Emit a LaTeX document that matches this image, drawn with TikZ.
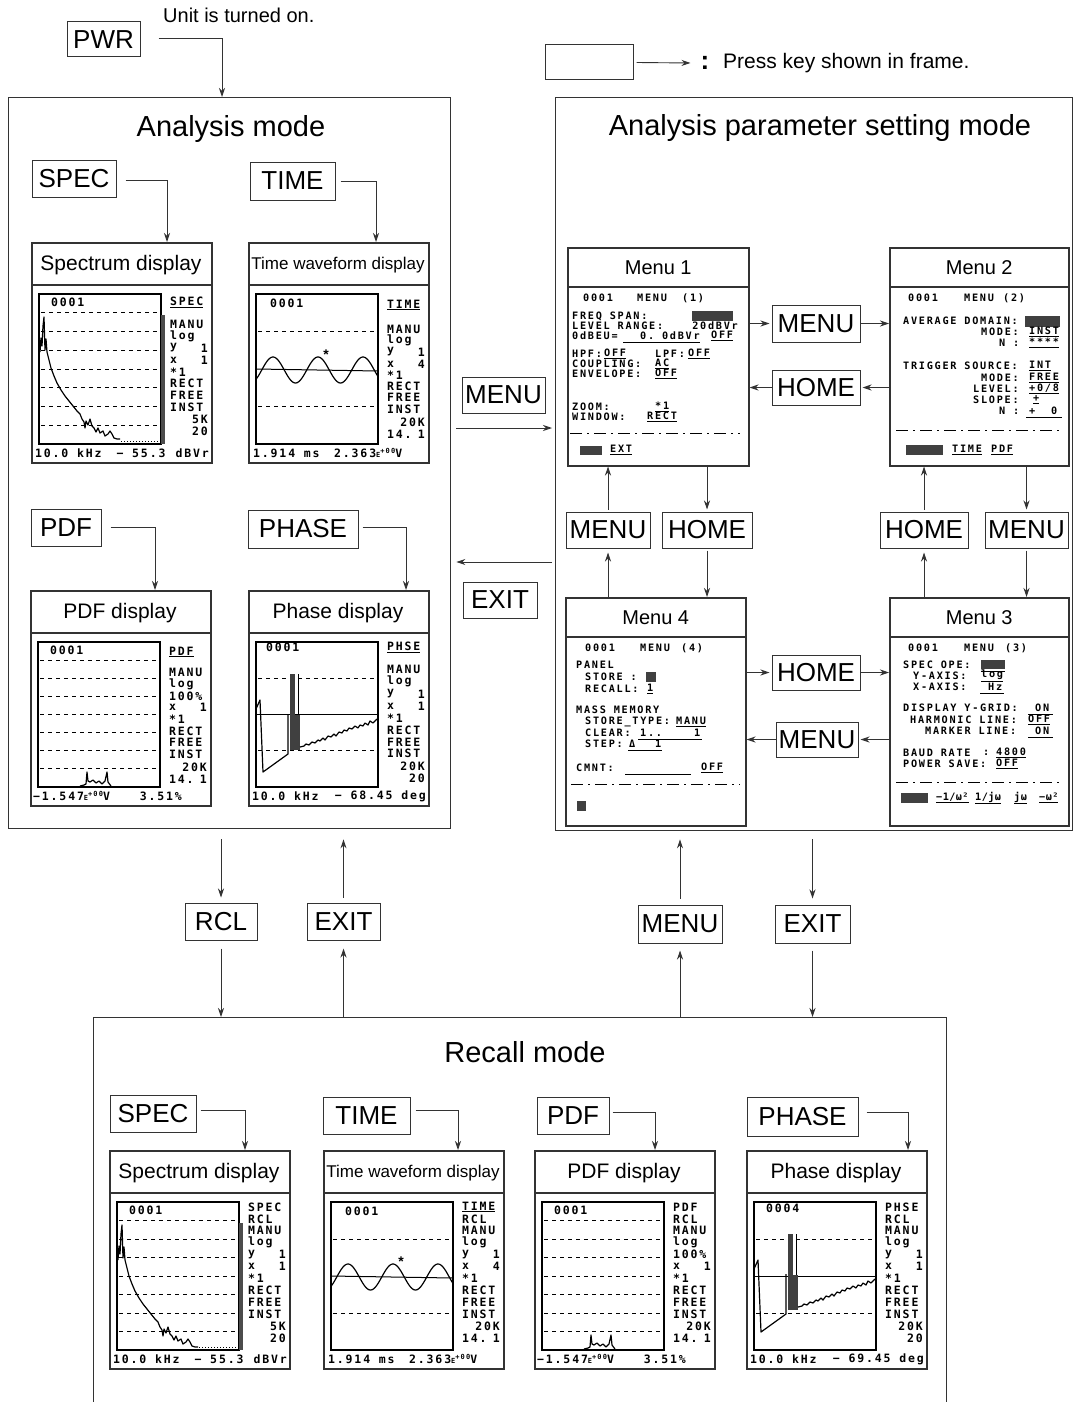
\documentclass[tikz,border=0pt]{standalone}
\usepackage{fontspec}
\setmainfont{Liberation Sans}
\newfontfamily\dispfam[LetterSpace=16]{DejaVu Sans Mono Bold}
\newfontfamily\menufam[LetterSpace=17]{DejaVu Sans Mono Bold}
\newfontfamily\menunarrow[LetterSpace=4]{DejaVu Sans Mono Bold}
\usetikzlibrary{arrows.meta,calc}
\newcommand{\DFont}{\dispfam\fontsize{11.5}{12}\selectfont}
\newcommand{\MFont}{\menufam\fontsize{10.2}{11}\selectfont}
\newcommand{\Esup}{{\fontsize{7}{7}\selectfont E\raisebox{3.5pt}{+00}}}
\tikzset{
 frm/.style={draw=black!80, line width=1.4pt, anchor=north west, inner sep=0pt},
 keyb/.style={draw=black!80, line width=1pt, inner sep=0pt, fill=white, font=\fontsize{26}{26}\selectfont},
 arr/.style={draw=black!80, line width=0.9pt, -{Stealth[length=9pt,width=6pt]}},
 dispf/.style={draw=black!80, line width=1.5pt, anchor=north west, inner sep=0pt, minimum width=180pt},
 menub/.style={draw=black!80, line width=1.5pt, anchor=north west, inner sep=0pt},
 dl/.style={font=\DFont, inner sep=0pt},
 ml/.style={font=\MFont, inner sep=0pt, anchor=west},
 mln/.style={font=\menunarrow\fontsize{10.2}{11}\selectfont, inner sep=0pt, anchor=west},
 gridd/.style={line width=0.8pt, dash pattern=on 4pt off 4pt},
 crv/.style={line width=1.2pt, line join=round},
 mdash/.style={line width=0.9pt, dash pattern=on 12pt off 5pt on 2pt off 5pt},
 dark/.style={fill=black!75},
 ttl/.style={font=\fontsize{29}{29}\selectfont, inner sep=0pt},
 mttl/.style={font=\fontsize{20}{20}\selectfont, inner sep=0pt}
}
\newcommand{\LabA}[3]{\node[dl,anchor=west] at (139,{#1}) {#2};\node[dl,anchor=east] at (177,{#1}) {#3};}
\newcommand{\LabR}[3]{\LabA{57+11.9*#1}{#2}{#3}}
\newcommand{\Display}[6]{%
 \node[dispf, minimum height=#4pt] (#1) at (#2,#3) {};
 \begin{scope}[shift={(#2,#3)}]
  \draw[line width=1.1pt, draw=black!80] (0,43) -- (180,43);
  \node[font=\fontsize{21}{21}\selectfont, inner sep=0pt] at (90,23) {#5};
  \draw[line width=1.2pt] (8,52) rectangle (130,{#4-18});
  #6
 \end{scope}}
\newcommand{\SpecPlot}[1]{%
 \foreach \k in {1,...,7}{\draw[gridd] (10,{52+\k*(#1-70)/8}) -- (129,{52+\k*(#1-70)/8});}
 \fill[black!70] (130,73) rectangle (134,{#1-18});
 \draw[crv] plot coordinates {(9,110) (10,96) (11,104) (12,84) (13,75) (14,108) (15,97) (16,110) (18,118) (20,126) (23,134) (26,141) (30,148) (34,154) (38,159) (42,164) (46,169) (49,172) (51,177) (53,180) (54,186) (55,179) (57,183) (59,177) (61,184) (63,186) (65,190) (67,186) (69,191) (72,189) (74,194) (77,192) (79,189) (81,192) (83,196) (86,197) (89,197)};
 \draw[line width=1pt, dotted] (90,{#1-21}) -- (128,{#1-21});
 \node[dl,anchor=west] at (20,60) {0001};}
\newcommand{\TimePlot}[1]{%
 \draw[gridd] (10,{52+(#1-70)/4}) -- (129,{52+(#1-70)/4});
 \draw[gridd] (10,{52+3*(#1-70)/4}) -- (129,{52+3*(#1-70)/4});
 \draw[line width=1pt] (8,{52+(#1-70)/2}) -- (130,{52+(#1-70)/2+2});
 \draw[crv] plot[smooth, domain=8.5:129.5, samples=120] (\x, {52+(#1-70)/2+1 - 13*sin(8*(\x-13.75))});
 \node[font=\bfseries\fontsize{14}{14}\selectfont, inner sep=0pt] at (78,{52+(#1-70)/2-14}) {*};
 \node[dl,anchor=west] at (22,61) {0001};}
\newcommand{\PdfPlot}[1]{%
 \foreach \k in {1,...,7}{\draw[gridd] (10,{52+\k*(#1-70)/8}) -- (129,{52+\k*(#1-70)/8});}
 \begin{scope}[shift={(0,{#1-18})}]
  \draw[crv] plot coordinates {(50,-1) (54,-2) (56,-3) (57,-15) (58,-6) (60,-5) (63,-7) (66,-4) (69,-6) (72,-3) (75,-6) (77,-15) (78,-5) (81,-1)};
 \end{scope}
 \node[dl,anchor=west] at (20,60) {0001};}
\newcommand{\PhasePlot}[1]{%
 \draw[gridd] (10,{52+(#1-70)/4}) -- (129,{52+(#1-70)/4});
 \draw[gridd] (10,{52+3*(#1-70)/4}) -- (129,{52+3*(#1-70)/4});
 \draw[line width=1pt] (8,{52+(#1-70)/2}) -- (130,{52+(#1-70)/2});
 \draw[crv] plot coordinates {(8,119) (12,110) (15,182) (40,164) (40,124)};
 \fill[black!75] (42,84) rectangle (47,160);
 \draw[line width=1pt] (50,84) -- (50,160);
 \fill[black!75] (46,125) rectangle (52,160);
 \draw[crv] plot coordinates {(52,157) (56,156) (58,154) (61,155) (64,152) (67,153) (70,150) (72,151) (75,148) (77,150) (80,146) (83,147) (86,144) (88,146) (91,142) (94,143) (96,140) (99,141) (101,138) (104,139) (107,136) (110,138) (112,135) (115,136) (117,133) (120,135) (122,131) (125,133) (129,129)};}
\begin{document}
\begin{tikzpicture}[x=1pt,y=-1pt]
\useasboundingbox[fill=white] (0,0) rectangle (1076,1402);
% ---------- top
\node[keyb, minimum width=73pt, minimum height=35pt] (pwr) at (103.5,39.5) {PWR};
\node[anchor=west, font=\fontsize{20}{20}\selectfont, inner sep=0pt] (note) at (163,15) {Unit is turned on.};
\node[keyb, minimum width=88pt, minimum height=35pt] (lgd) at (589,62.5) {};
\node[font=\bfseries\fontsize{26}{26}\selectfont, inner sep=0pt] (colon) at (705,63) {:};
\node[anchor=west, font=\fontsize{21}{21}\selectfont, inner sep=0pt] (lgdtext) at (723,63) {Press key shown in frame.};
\draw[arr] ($(lgd.east)+(3,0)$) -- ($(colon.west)+(-10,0)$);
% ---------- frames
\node[frm, minimum width=442pt, minimum height=731pt] (am) at (8,97) {};
\node[ttl] at (231,129) {Analysis mode};
\node[frm, minimum width=517pt, minimum height=733pt] (apm) at (555,97) {};
\node[ttl] at (820,128) {Analysis parameter setting mode};
\node[frm, minimum width=853pt, minimum height=420pt] (rm) at (93,1017) {};
\node[ttl] at (525,1052) {Recall mode};
\draw[arr] ($(pwr.east)+(18,-1)$) -| ($(am.north west)+(214,0)$);
% ---------- analysis mode keys
\node[keyb, minimum width=84pt, minimum height=37pt] (kspecA) at (74,178.5) {SPEC};
\node[keyb, minimum width=85pt, minimum height=38pt] (ktimeA) at (292.5,181) {TIME};
\node[keyb, minimum width=70pt, minimum height=37pt] (kpdfA) at (66,527.5) {PDF};
\node[keyb, minimum width=110pt, minimum height=38pt] (kphaseA) at (303,529) {PHASE};
% ---------- analysis displays
\Display{dsA}{31}{242}{220}{Spectrum display}{\SpecPlot{220}
 \LabA{60}{\underline{SPEC}}{}\LabA{82}{MANU}{}\LabA{94}{log}{}\LabA{106}{y}{1}\LabA{118}{x}{1}
 \LabA{130}{*1}{}\LabA{141}{RECT}{}\LabA{153}{FREE}{}\LabA{165}{INST}{}\LabA{177}{}{5K}\LabA{189}{}{20}
 \node[dl,anchor=west] at (4,211) {10.0 kHz}; \node[dl] at (110,211) {−~55.3}; \node[dl,anchor=east] at (178,211) {dBVr};}
\Display{dtA}{248}{242}{220}{\fontsize{17}{17}\selectfont Time waveform display}{\TimePlot{220}
 \LabA{63}{\underline{TIME}}{}\LabA{87}{MANU}{}\LabA{98}{log}{}\LabA{110}{y}{1}\LabA{122}{x}{4}
 \LabA{133}{*1}{}\LabA{144}{RECT}{}\LabA{155}{FREE}{}\LabA{167}{INST}{}\LabA{180}{}{20K}\LabA{192}{14.}{1}
 \node[dl,anchor=west] at (5,211) {1.914 ms}; \node[dl,anchor=west] at (86,211) {2.363\Esup V};}
\Display{dpA}{30}{590}{215}{PDF display}{\PdfPlot{215}
 \LabA{62}{\underline{PDF}}{}\LabA{82}{MANU}{}\LabA{94}{log}{}\LabA{106}{100\%}{}\LabA{117}{x}{1}
 \LabA{129}{*1}{}\LabA{141}{RECT}{}\LabA{152}{FREE}{}\LabA{164}{INST}{}\LabA{177}{}{20K}\LabA{189}{14.}{1}
 \node[dl,anchor=west] at (3,206) {−1.547\Esup V}; \node[dl,anchor=east] at (152,206) {3.51\%};}
\Display{dphA}{248}{590}{215}{Phase display}{\PhasePlot{215}
 \node[dl,anchor=west] at (18,57) {0001};
 \LabA{57}{\underline{PHSE}}{}\LabA{79}{MANU}{}\LabA{91}{log}{}\LabA{104}{y}{1}\LabA{116}{x}{1}
 \LabA{128}{*1}{}\LabA{140}{RECT}{}\LabA{152}{FREE}{}\LabA{163}{INST}{}\LabA{176}{}{20K}\LabA{188}{}{20}
 \node[dl,anchor=west] at (4,206) {10.0 kHz}; \node[dl,anchor=east] at (178,206) {−~68.45 deg};}
\draw[arr] ($(kspecA.east)+(9,2)$) -| ($(dsA.north west)+(136,0)$);
\draw[arr] ($(ktimeA.east)+(5,0)$) -| ($(dtA.north west)+(128,0)$);
\draw[arr] ($(kpdfA.east)+(9,0)$) -| ($(dpA.north west)+(125,0)$);
\draw[arr] ($(kphaseA.east)+(4,-2)$) -| ($(dphA.north west)+(158,0)$);
% ---------- between modes
\node[keyb, minimum width=83pt, minimum height=36pt] (kmenuC) at (503.5,395) {MENU};
\node[keyb, minimum width=74pt, minimum height=36pt] (kexitC) at (500,600) {EXIT};
\draw[arr] ($(am.north east)+(5,331)$) -- ($(apm.north west)+(-3,331)$);
\draw[arr] ($(apm.north west)+(-3,465)$) -- ($(am.north east)+(5,465)$);
% ---------- menus
\node[menub, minimum width=181pt, minimum height=218pt] (m1) at (567,247) {};
\node[menub, minimum width=179pt, minimum height=218pt] (m2) at (889,247) {};
\node[menub, minimum width=180pt, minimum height=228pt] (m4) at (565,597) {};
\node[menub, minimum width=179pt, minimum height=228pt] (m3) at (889,597) {};
\foreach \m/\t in {m1/Menu 1, m2/Menu 2, m4/Menu 4, m3/Menu 3}{
 \draw[line width=1.1pt, draw=black!80] ($(\m.north west)+(0,40)$) -- ($(\m.north east)+(0,40)$);
 \node[mttl] at ($(\m.north)+(0,21)$) {\t};}
% Menu 1
\node[ml] at (583,298) {0001}; \node[ml] at (637,298) {MENU}; \node[ml] at (682,298) {(1)};
\node[ml] at (572,316) {FREQ SPAN:}; \fill[dark] (692,311) rectangle (733,321);
\node[ml] at (572,326) {LEVEL RANGE:}; \node[ml,anchor=east] at (738,326) {20dBVr};
\node[ml] at (572,336) {0dBEU=}; \draw[line width=0.8pt] (623,342) -- (700,342);
\node[ml] at (640,336) {0.~0dBVr}; \node[ml] at (711,336) {\underline{OFF}};
\node[ml] at (572,354) {HPF:}; \node[ml] at (604,354) {\underline{OFF}};
\node[ml] at (655,354) {LPF:}; \node[ml] at (688,354) {\underline{OFF}};
\node[ml] at (572,364) {COUPLING:}; \node[ml] at (655,364) {\underline{AC}};
\node[ml] at (572,374) {ENVELOPE:}; \node[ml] at (655,374) {\underline{OFF}};
\node[ml] at (572,407) {ZOOM:}; \node[ml] at (655,407) {\underline{*1}};
\node[ml] at (572,417) {WINDOW:}; \node[ml] at (647,417) {\underline{RECT}};
\draw[mdash] (570,433) -- (740,433);
\fill[dark] (580,446) rectangle (602,455); \node[ml] at (610,450) {\underline{EXT}};
% Menu 2
\node[ml] at (908,298) {0001}; \node[ml] at (964,298) {MENU}; \node[ml] at (1003,298) {(2)};
\node[ml] at (903,321) {AVERAGE DOMAIN:}; \fill[dark] (1025,316) rectangle (1060,327);
\node[ml] at (981,332) {MODE:}; \node[ml] at (1029,332) {\underline{INST}};
\node[ml] at (999,343) {N :}; \node[ml] at (1029,343) {\underline{****}};
\node[ml] at (903,366) {TRIGGER SOURCE:}; \node[ml] at (1029,366) {\underline{INT}};
\node[ml] at (981,378) {MODE:}; \node[ml] at (1029,378) {\underline{FREE}};
\node[ml] at (973,389) {LEVEL:}; \node[ml] at (1029,389) {\underline{+0/8}};
\node[ml] at (973,400) {SLOPE:}; \node[ml] at (1033,400) {\underline{+}};
\node[ml] at (999,411) {N :}; \node[ml] at (1029,411) {+~~0}; \draw[line width=0.8pt] (1026,417) -- (1062,417);
\draw[mdash] (896,430) -- (1062,430);
\fill[dark] (906,445) rectangle (943,455); \node[ml] at (952,450) {\underline{TIME}}; \node[ml] at (991,450) {\underline{PDF}};
% Menu 4
\node[ml] at (585,648) {0001}; \node[ml] at (640,648) {MENU}; \node[ml] at (681,648) {(4)};
\node[ml] at (576,665) {PANEL};
\node[ml] at (585,677) {STORE :}; \fill[dark] (646,672) rectangle (656,682);
\node[ml] at (585,689) {RECALL:}; \node[ml] at (647,689) {\underline{1}};
\node[ml] at (576,710) {MASS MEMORY};
\node[ml] at (585,722) {STORE\_TYPE:}; \node[ml] at (676,722) {\underline{MANU}};
\node[ml] at (585,733) {CLEAR:}; \node[ml] at (640,733) {1..}; \node[ml] at (694,733) {1}; \draw[line width=0.8pt] (638,739) -- (702,739);
\node[ml] at (585,744) {STEP:}; \node[ml] at (629,744) {Δ}; \node[ml] at (655,744) {1}; \draw[line width=0.8pt] (628,750) -- (662,750);
\node[ml] at (576,768) {CMNT:}; \draw[line width=0.8pt] (625,774) -- (691,774); \node[ml] at (701,768) {\underline{OFF}};
\draw[mdash] (571,784) -- (740,784);
\fill[dark] (577,801) rectangle (586,811);
% Menu 3
\node[ml] at (908,648) {0001}; \node[ml] at (964,648) {MENU}; \node[ml] at (1005,648) {(3)};
\node[ml] at (903,665) {SPEC OPE:}; \fill[dark] (981,660) rectangle (1005,669); \draw[line width=0.8pt] (981,671) -- (1005,671);
\node[ml] at (913,676) {Y-AXIS:}; \node[ml] at (981,676) {\underline{log}};
\node[ml] at (913,687) {X-AXIS:}; \node[ml] at (988,687) {Hz}; \draw[line width=0.8pt] (980,693) -- (1004,693);
\node[ml] at (903,708) {DISPLAY Y-GRID:}; \node[ml] at (1035,708) {ON}; \draw[line width=0.8pt] (1028,714) -- (1053,714);
\node[ml] at (910,720) {HARMONIC LINE:}; \node[ml] at (1028,720) {\underline{OFF}};
\node[ml] at (925,731) {MARKER LINE:}; \node[ml] at (1035,731) {ON}; \draw[line width=0.8pt] (1028,737) -- (1053,737);
\node[ml] at (903,753) {BAUD RATE}; \node[ml] at (983,753) {:}; \node[ml] at (996,753) {\underline{4800}};
\node[ml] at (903,764) {POWER SAVE:}; \node[ml] at (996,764) {\underline{OFF}};
\draw[mdash] (896,782) -- (1062,782);
\fill[dark] (901,793) rectangle (928,803);
\node[mln] at (936,798) {\underline{−1/ω²}}; \node[mln] at (975,798) {\underline{1/jω}}; \node[mln] at (1014,798) {\underline{jω}}; \node[mln] at (1039,798) {\underline{−ω²}};
% menu keys
\node[keyb, minimum width=88pt, minimum height=37pt] (kmenu12) at (816,323.5) {MENU};
\node[keyb, minimum width=88pt, minimum height=35pt] (khome21) at (816,387.5) {HOME};
\node[keyb, minimum width=84pt, minimum height=36pt] (kmenu41) at (608,530) {MENU};
\node[keyb, minimum width=90pt, minimum height=36pt] (khome14) at (707,530) {HOME};
\node[keyb, minimum width=88pt, minimum height=36pt] (khome32) at (924,530) {HOME};
\node[keyb, minimum width=83pt, minimum height=36pt] (kmenu23) at (1026.5,530) {MENU};
\node[keyb, minimum width=88pt, minimum height=35pt] (khome43) at (816,672.5) {HOME};
\node[keyb, minimum width=82pt, minimum height=35pt] (kmenu34) at (817,739.5) {MENU};
\draw[arr] (m1.east |- kmenu12.west) -- ([xshift=-2pt]kmenu12.west);
\draw[arr] (kmenu12.east) -- (m2.west |- kmenu12.east);
\draw[arr] (m2.west |- khome21.east) -- ([xshift=2pt]khome21.east);
\draw[arr] (khome21.west) -- (m1.east |- khome21.west);
\draw[arr] (m4.north -| kmenu41.south) -- ([yshift=-4pt]kmenu41.south);
\draw[arr] ([yshift=2pt]kmenu41.north) -- (m1.south -| kmenu41.north);
\draw[arr] (m1.south -| khome14.north) -- ([yshift=2pt]khome14.north);
\draw[arr] ([yshift=-2pt]khome14.south) -- (m4.north -| khome14.south);
\draw[arr] (m3.north -| khome32.south) -- ([yshift=-4pt]khome32.south);
\draw[arr] ([yshift=2pt]khome32.north) -- (m2.south -| khome32.north);
\draw[arr] (m2.south -| kmenu23.north) -- ([yshift=2pt]kmenu23.north);
\draw[arr] ([yshift=-2pt]kmenu23.south) -- (m3.north -| kmenu23.south);
\draw[arr] (m4.east |- khome43.west) -- ([xshift=-2pt]khome43.west);
\draw[arr] (khome43.east) -- (m3.west |- khome43.east);
\draw[arr] (m3.west |- kmenu34.east) -- ([xshift=2pt]kmenu34.east);
\draw[arr] (kmenu34.west) -- (m4.east |- kmenu34.west);
% ---------- bottom keys
\node[keyb, minimum width=72pt, minimum height=37pt] (krcl) at (221,921.5) {RCL};
\node[keyb, minimum width=73pt, minimum height=37pt] (kexitL) at (343.5,921.5) {EXIT};
\node[keyb, minimum width=84pt, minimum height=38pt] (kmenuB) at (680,924) {MENU};
\node[keyb, minimum width=75pt, minimum height=38pt] (kexitR) at (812.5,924) {EXIT};
\draw[arr] ($(am.south -| krcl.north)+(0,10)$) -- ($(krcl.north)+(0,-5)$);
\draw[arr] ($(krcl.south)+(0,8)$) -- (rm.north -| krcl.south);
\draw[arr] (rm.north -| kexitL.south) -- ($(kexitL.south)+(0,8)$);
\draw[arr] ($(kexitL.north)+(0,-5)$) -- ($(am.south -| kexitL.north)+(0,10)$);
\draw[arr] (rm.north -| kmenuB.south) -- ($(kmenuB.south)+(0,7)$);
\draw[arr] ($(kmenuB.north)+(0,-6)$) -- ($(apm.south -| kmenuB.north)+(0,8)$);
\draw[arr] ($(apm.south -| kexitR.north)+(0,8)$) -- ($(kexitR.north)+(0,-6)$);
\draw[arr] ($(kexitR.south)+(0,7)$) -- (rm.north -| kexitR.south);
% ---------- recall mode
\node[keyb, minimum width=86pt, minimum height=37pt] (kspecR) at (153,1113.5) {SPEC};
\node[keyb, minimum width=87pt, minimum height=37pt] (ktimeR) at (366.5,1115.5) {TIME};
\node[keyb, minimum width=72pt, minimum height=37pt] (kpdfR) at (573,1115.5) {PDF};
\node[keyb, minimum width=111pt, minimum height=39pt] (kphaseR) at (802.5,1116.5) {PHASE};
\Display{dsR}{109}{1150}{218}{Spectrum display}{\SpecPlot{218}
 \LabR{0}{SPEC}{}\LabR{1}{RCL}{}\LabR{2}{MANU}{}\LabR{3}{log}{}\LabR{4}{y}{1}\LabR{5}{x}{1}
 \LabR{6}{*1}{}\LabR{7}{RECT}{}\LabR{8}{FREE}{}\LabR{9}{INST}{}\LabR{10}{}{5K}\LabR{11}{}{20}
 \node[dl,anchor=west] at (4,209) {10.0 kHz}; \node[dl] at (110,209) {−~55.3}; \node[dl,anchor=east] at (178,209) {dBVr};}
\Display{dtR}{323}{1150}{218}{\fontsize{17}{17}\selectfont Time waveform display}{\TimePlot{218}
 \LabR{0}{\underline{TIME}}{}\LabR{1}{RCL}{}\LabR{2}{MANU}{}\LabR{3}{log}{}\LabR{4}{y}{1}\LabR{5}{x}{4}
 \LabR{6}{*1}{}\LabR{7}{RECT}{}\LabR{8}{FREE}{}\LabR{9}{INST}{}\LabR{10}{}{20K}\LabR{11}{14.}{1}
 \node[dl,anchor=west] at (5,209) {1.914 ms}; \node[dl,anchor=west] at (86,209) {2.363\Esup V};}
\Display{dpR}{534}{1150}{218}{PDF display}{\PdfPlot{218}
 \LabR{0}{PDF}{}\LabR{1}{RCL}{}\LabR{2}{MANU}{}\LabR{3}{log}{}\LabR{4}{100\%}{}\LabR{5}{x}{1}
 \LabR{6}{*1}{}\LabR{7}{RECT}{}\LabR{8}{FREE}{}\LabR{9}{INST}{}\LabR{10}{}{20K}\LabR{11}{14.}{1}
 \node[dl,anchor=west] at (3,209) {−1.547\Esup V}; \node[dl,anchor=east] at (152,209) {3.51\%};}
\Display{dphR}{746}{1150}{218}{Phase display}{\PhasePlot{218}
 \node[dl,anchor=west] at (20,58) {0004};
 \LabR{0}{PHSE}{}\LabR{1}{RCL}{}\LabR{2}{MANU}{}\LabR{3}{log}{}\LabR{4}{y}{1}\LabR{5}{x}{1}
 \LabR{6}{*1}{}\LabR{7}{RECT}{}\LabR{8}{FREE}{}\LabR{9}{INST}{}\LabR{10}{}{20K}\LabR{11}{}{20}
 \node[dl,anchor=west] at (4,209) {10.0 kHz}; \node[dl,anchor=east] at (178,209) {−~69.45 deg};}
\draw[arr] ($(kspecR.east)+(4,-3)$) -| ($(dsR.north west)+(136,0)$);
\draw[arr] ($(ktimeR.east)+(5,-5)$) -| ($(dtR.north west)+(135,0)$);
\draw[arr] ($(kpdfR.east)+(3,-3)$) -| ($(dpR.north west)+(121,0)$);
\draw[arr] ($(kphaseR.east)+(8,-4)$) -| ($(dphR.north west)+(162,0)$);
\end{tikzpicture}
\end{document}
